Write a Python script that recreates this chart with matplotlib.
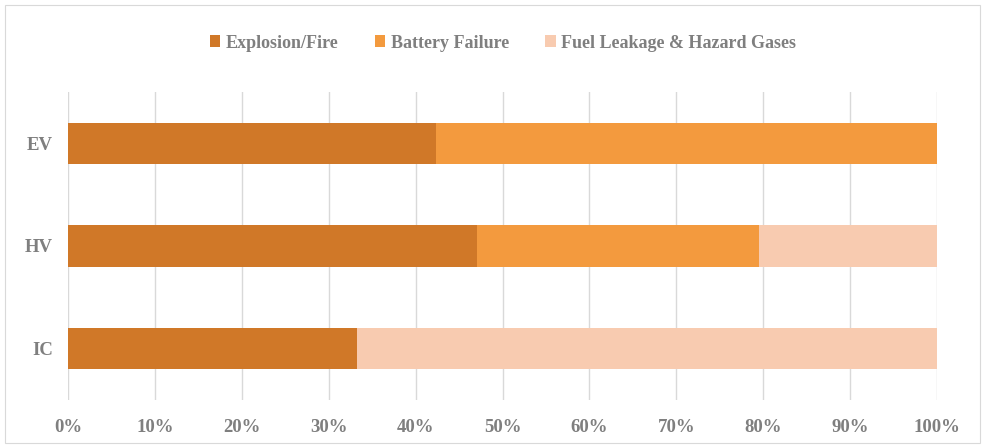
import matplotlib.pyplot as plt
from matplotlib.patches import Rectangle
import numpy as np

plt.rcParams['font.family'] = ['Liberation Serif', 'DejaVu Serif']

categories = ['IC', 'HV', 'EV']
explosion_fire = [33.3, 47.1, 42.4]
battery_failure = [0.0, 32.4, 57.6]
fuel_leakage = [66.7, 20.5, 0.0]
series_names = ['Explosion/Fire', 'Battery Failure', 'Fuel Leakage & Hazard Gases']
colors = ['#D07828', '#F39A3E', '#F8CBB0']
text_color = '#7F7F7F'

fig = plt.figure(figsize=(9.83, 4.45), dpi=100)
ax = fig.add_axes([68 / 983, 1 - 400 / 445, 869 / 983, 308 / 445])

# light chart-area border
fig.patches.append(Rectangle((5 / 983, 2 / 445), 975 / 983, 438 / 445, transform=fig.transFigure,
                             fill=False, edgecolor='#D9D9D9', linewidth=0.8))

y = np.arange(len(categories))
left = np.zeros(len(categories))
for vals, name, col in zip([explosion_fire, battery_failure, fuel_leakage], series_names, colors):
    vals = np.array(vals)
    ax.barh(y, vals, left=left, height=0.4, color=col, label=name, zorder=3)
    left += vals

ax.set_xlim(0, 100)
ax.set_ylim(-0.5, 2.5)
ax.set_xticks(np.arange(0, 101, 10))
ax.set_xticklabels([f'{v}%' for v in range(0, 101, 10)])
ax.set_yticks(y)
ax.set_yticklabels(categories)
ax.tick_params(length=0, labelsize=13.5, labelcolor=text_color)
ax.tick_params(axis='y', pad=11)
ax.tick_params(axis='x', pad=14)
for lbl in ax.get_xticklabels() + ax.get_yticklabels():
    lbl.set_fontweight('bold')
ax.grid(axis='x', color='#D9D9D9', linewidth=1, zorder=0)
for s in ax.spines.values():
    s.set_visible(False)

leg = fig.legend(loc='center', bbox_to_anchor=(503 / 983, 1 - 43 / 445), ncol=3, frameon=False,
                 handlelength=0.6, handleheight=0.6, handletextpad=0.3, columnspacing=2.0,
                 prop={'weight': 'bold', 'size': 13})
for t in leg.get_texts():
    t.set_color(text_color)

fig.savefig('out.png', dpi=100)
